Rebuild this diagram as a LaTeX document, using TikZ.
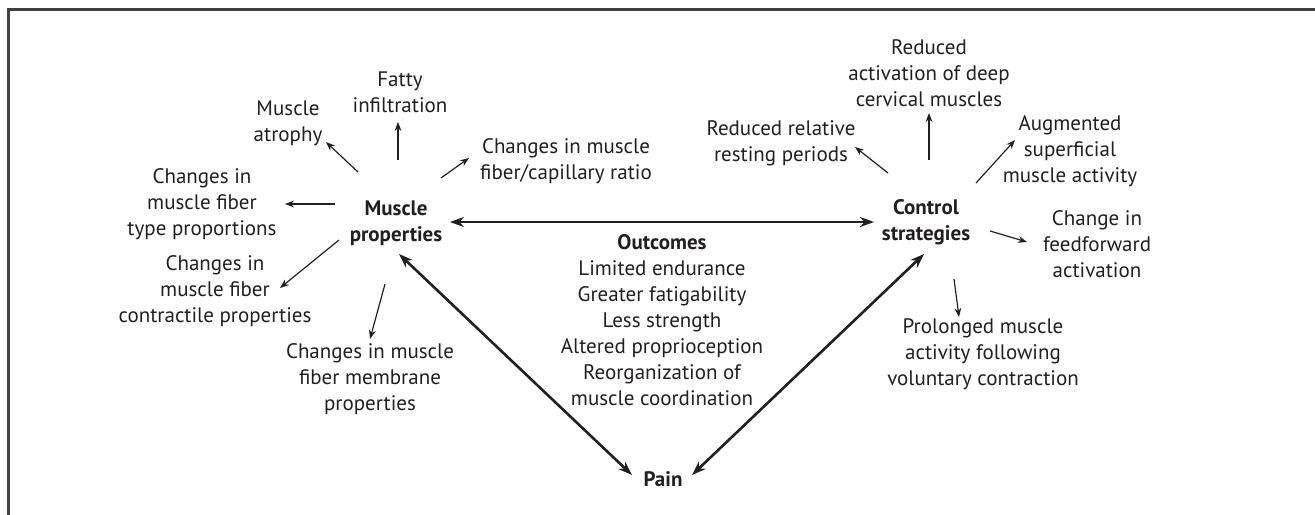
\documentclass[tikz,border=0pt]{standalone}
\usepackage{fontspec}
\setmainfont{PT Sans}
\definecolor{ink}{RGB}{35, 31, 32}
\definecolor{rulegray}{RGB}{64, 64, 64}
\usetikzlibrary{arrows.meta}

\begin{document}
\begin{tikzpicture}[x=0.5pt, y=-0.5pt,
  txt/.style={align=center, inner sep=0pt, text=ink, font=\fontsize{10.5}{13}\selectfont},
  hub/.style={txt, font=\fontsize{10.5}{13}\selectfont\bfseries},
  arr/.style={-{Stealth[length=4.5pt, width=3.4pt]}, line width=0.6pt, draw=ink},
  link/.style={{Stealth[length=7pt, width=5pt]}-{Stealth[length=7pt, width=5pt]}, line width=1.3pt, draw=ink},
  boxline/.style={line width=1.5pt, draw=rulegray}
]
  \useasboundingbox (0,0) rectangle (1315,514);
  \fill[white] (0,0) rectangle (1315,514);
  \draw[boxline] (8.5,530) |- (1330,9);

  % Main factors
  \node[hub] (mp) at (396,223) {Muscle\\properties};
  \node[hub] (cs) at (926,222) {Control\\strategies};
  \node[hub] (pain) at (663,479) {Pain};
  \node[txt] (outc) at (662,320) {\textbf{Outcomes}\\Limited endurance\\Greater fatigability\\Less strength\\Altered proprioception\\Reorganization of\\muscle coordination};

  \draw[link] ([shift={(54,-1)}]mp.center) -- ([shift={(-52,0)}]cs.center);
  \draw[link] ([shift={(3,31)}]mp.center) -- ([shift={(-31,-4)}]pain.center);
  \draw[link] ([shift={(-2,32)}]cs.center) -- ([shift={(29,-4)}]pain.center);

  % Muscle properties
  \node[txt] (fatty) at (400,92) {Fatty\\infiltration};
  \node[txt] (atrophy) at (288,123) {Muscle\\atrophy};
  \node[txt] (capil) at (566,161) {Changes in muscle\\fiber/capillary ratio};
  \node[txt] (typeprop) at (202,204) {Changes in\\muscle fiber\\type proportions};
  \node[txt] (contr) at (215,291) {Changes in\\muscle fiber\\contractile properties};
  \node[txt] (membr) at (370,379) {Changes in muscle\\fiber membrane\\properties};

  \draw[arr] ([shift={(2,-63)}]mp.center) -- ([shift={(-2,30)}]fatty.center);
  \draw[arr] ([shift={(-38,-51)}]mp.center) -- ([shift={(38,19)}]atrophy.center);
  \draw[arr] ([shift={(45,-45)}]mp.center) -- ([shift={(-97,-3)}]capil.center);
  \draw[arr] ([shift={(-61,-19)}]mp.center) -- ([shift={(83,0)}]typeprop.center);
  \draw[arr] ([shift={(-57,17)}]mp.center) -- ([shift={(65,-3)}]contr.center);
  \draw[arr] ([shift={(-11,61)}]mp.center) -- ([shift={(0,-40)}]membr.center);

  % Control strategies
  \node[txt] (cerv) at (929,73) {Reduced\\activation of deep\\cervical muscles};
  \node[txt] (rest) at (781,143) {Reduced relative\\resting periods};
  \node[txt] (augm) at (1070,151) {Augmented\\superficial\\muscle activity};
  \node[txt] (feedf) at (1097,244) {Change in\\feedforward\\activation};
  \node[txt] (prolong) at (983,354) {Prolonged muscle\\activity following\\voluntary contraction};

  \draw[arr] ([shift={(3,-62)}]cs.center) -- ([shift={(0,40)}]cerv.center);
  \draw[arr] ([shift={(-38,-49)}]cs.center) -- ([shift={(74,4)}]rest.center);
  \draw[arr] ([shift={(50,-39)}]cs.center) -- ([shift={(-55,-11)}]augm.center);
  \draw[arr] ([shift={(64,9)}]cs.center) -- ([shift={(-70,-2)}]feedf.center);
  \draw[arr] ([shift={(28,57)}]cs.center) -- ([shift={(-24,-37)}]prolong.center);
\end{tikzpicture}
\end{document}
